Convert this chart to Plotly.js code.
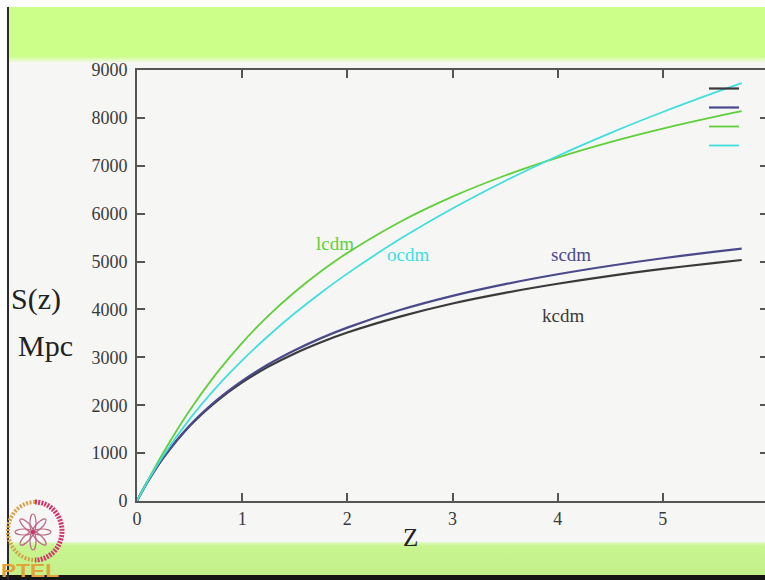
<!DOCTYPE html>
<html>
<head>
<meta charset="utf-8">
<script src="https://cdn.plot.ly/plotly-3.0.1.min.js"></script>
<style>
html,body{margin:0;padding:0;overflow:hidden;width:765px;height:580px;background:#f6f6f4;}
.abs{position:absolute;}
#plot{position:absolute;left:0;top:0;width:772px;height:580px;}
</style>
</head>
<body>
<div class="abs" style="left:0;top:0;width:765px;height:7px;background:#fdfdfd;"></div>
<div class="abs" style="left:0;top:0;width:7px;height:580px;background:#fdfdfd;"></div>
<div class="abs" style="left:8px;top:7px;width:757px;height:56px;background:linear-gradient(#ccff8a 0%,#ccff8a 88%,#f6f6f4 100%);"></div>
<div class="abs" style="left:8px;top:542px;width:757px;height:33px;background:linear-gradient(#e4f8c8 0%,#c8f590 12%,#c4f08a 100%);"></div>
<div class="abs" style="left:0;top:575px;width:765px;height:5px;background:#151515;"></div>
<div class="abs" style="left:7px;top:7px;width:2px;height:573px;background:#2a2a2a;"></div>
<svg class="abs" style="left:0;top:498px;" width="80" height="82" viewBox="0 0 80 82">
  <path d="M35,4 A27,29 0 0 0 35,62" fill="none" stroke="#d8a24a" stroke-width="4" stroke-dasharray="2,1.5"/>
  <path d="M35,4 A27,29 0 0 1 35,62" fill="none" stroke="#d2366e" stroke-width="5" stroke-dasharray="2,1.2"/>
  <g transform="translate(33,34)" fill="none" stroke="#b86a86" stroke-width="1.2">
    <ellipse cx="0" cy="-9" rx="3" ry="9"/>
    <ellipse cx="0" cy="-9" rx="3" ry="9" transform="rotate(45)"/>
    <ellipse cx="0" cy="-9" rx="3" ry="9" transform="rotate(90)"/>
    <ellipse cx="0" cy="-9" rx="3" ry="9" transform="rotate(135)"/>
    <ellipse cx="0" cy="-9" rx="3" ry="9" transform="rotate(180)"/>
    <ellipse cx="0" cy="-9" rx="3" ry="9" transform="rotate(225)"/>
    <ellipse cx="0" cy="-9" rx="3" ry="9" transform="rotate(270)"/>
    <ellipse cx="0" cy="-9" rx="3" ry="9" transform="rotate(315)"/>
    <circle cx="0" cy="0" r="2" fill="#d0306a" stroke="none"/>
  </g>
  <text x="1" y="79" font-family="Liberation Sans" font-weight="bold" font-size="19" fill="#e0a23a" textLength="58" lengthAdjust="spacingAndGlyphs">PTEL</text>
</svg>
<div id="plot"></div>
<script>
// redshift samples
const z = [0, 0.1, 0.25, 0.5, 0.75, 1, 1.25, 1.5, 1.75, 2, 2.5, 3, 3.5, 4, 4.5, 5, 5.5, 5.75];
// S(z) in Mpc
const kcdm = [0, 398, 902, 1564, 2070, 2476, 2806, 3082, 3316, 3519, 3851, 4125, 4347, 4536, 4702, 4846, 4972, 5032];
const scdm = [0, 398, 904, 1572, 2091, 2509, 2855, 3148, 3401, 3620, 3987, 4283, 4528, 4735, 4913, 5069, 5206, 5269];
const lcdm = [0, 418, 1008, 1889, 2649, 3304, 3871, 4364, 4797, 5180, 5827, 6356, 6797, 7171, 7494, 7776, 8025, 8139];
const ocdm = [0, 406, 944, 1710, 2363, 2936, 3451, 3919, 4349, 4748, 5469, 6108, 6683, 7205, 7683, 8123, 8531, 8724];

const seriesNames = ['kcdm', 'scdm', 'lcdm', 'ocdm'];
const seriesData = [kcdm, scdm, lcdm, ocdm];
const seriesColors = ['#3a3a3a', '#4a4a8a', '#5fcf3a', '#40dede'];
const seriesWidths = [2.2, 2.2, 1.8, 1.8];

// curve label positions (z, S)
const labelZ = [4.05, 4.13, 1.88, 2.58];
const labelS = [3880, 5140, 5370, 5140];

const xTicks = [0, 1, 2, 3, 4, 5, 6];
const yTicks = [0, 1000, 2000, 3000, 4000, 5000, 6000, 7000, 8000, 9000];

const traces = seriesData.map((d, i) => ({
  type: 'scatter', mode: 'lines', x: z, y: d,
  name: ' ',
  line: {color: seriesColors[i], width: seriesWidths[i], shape: 'spline', smoothing: 1},
  hoverinfo: 'skip'
}));

const serif = 'Liberation Serif, DejaVu Serif, serif';
const axisCommon = {
  showline: true, linecolor: '#555', linewidth: 2, mirror: 'ticks',
  ticks: 'inside', ticklen: 8, tickwidth: 2, tickcolor: '#555',
  showgrid: false, zeroline: false,
  tickfont: {family: serif, size: 18, color: '#3a3a3a'}
};

const annotations = seriesNames.map((n, i) => ({
  x: labelZ[i], y: labelS[i], xref: 'x', yref: 'y', text: n, showarrow: false,
  font: {family: serif, size: 19, color: seriesColors[i]}
}));
annotations.push({xref: 'paper', yref: 'paper', x: (36 - 137) / 631, y: (501 - 299) / 431,
  xanchor: 'center', yanchor: 'middle',
  text: 'S(z)', showarrow: false, font: {family: serif, size: 30, color: '#222'}});
annotations.push({xref: 'paper', yref: 'paper', x: (45 - 137) / 631, y: (501 - 345) / 431,
  xanchor: 'center', yanchor: 'middle',
  text: 'Mpc', showarrow: false, font: {family: serif, size: 30, color: '#222'}});
annotations.push({xref: 'paper', yref: 'paper', x: (410 - 137) / 631, y: (501 - 537) / 431,
  xanchor: 'center', yanchor: 'middle',
  text: 'Z', showarrow: false, font: {family: serif, size: 25, color: '#222'}});

const layout = {
  width: 772, height: 580,
  margin: {l: 137, r: 4, t: 70, b: 79},
  paper_bgcolor: 'rgba(0,0,0,0)', plot_bgcolor: 'rgba(0,0,0,0)',
  xaxis: Object.assign({}, axisCommon, {range: [0, 6], tickvals: xTicks, ticklabelstandoff: 0}),
  yaxis: Object.assign({}, axisCommon, {range: [0, 9000], tickvals: yTicks, ticklabelstandoff: 4}),
  showlegend: true,
  legend: {x: (704 - 137) / 631, y: (501 - 74) / 431, xanchor: 'left', yanchor: 'top',
    bgcolor: 'rgba(0,0,0,0)', font: {size: 9}, tracegroupgap: 0, itemwidth: 30},
  annotations: annotations
};

Plotly.newPlot('plot', traces, layout, {staticPlot: true, displayModeBar: false});
</script>
</body>
</html>
